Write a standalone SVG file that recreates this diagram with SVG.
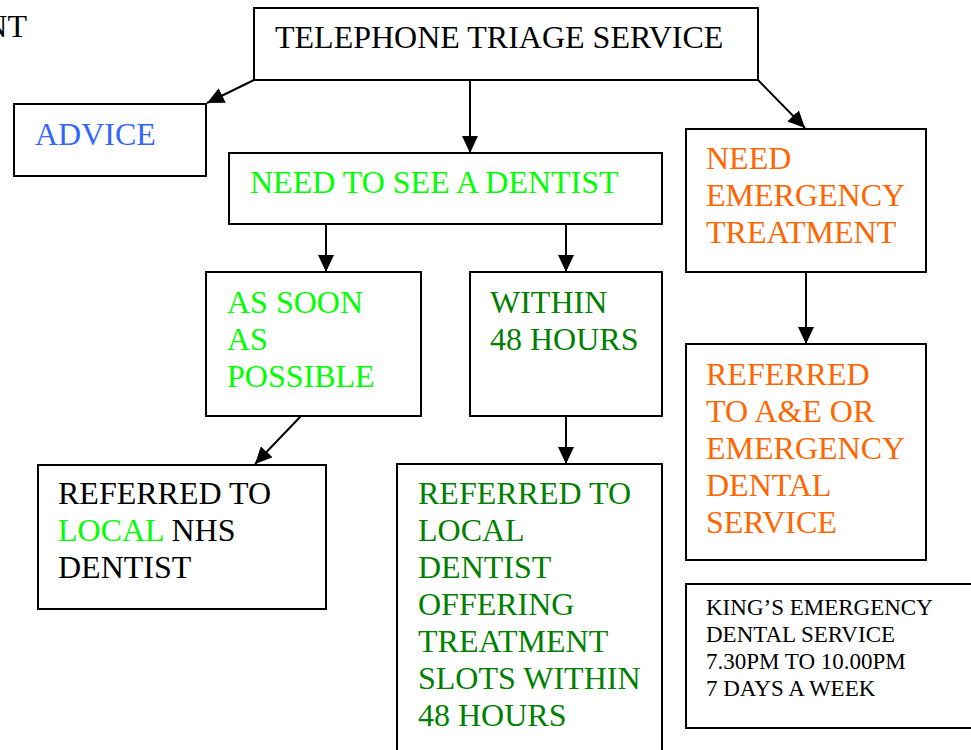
<svg xmlns="http://www.w3.org/2000/svg" width="971" height="750" viewBox="0 0 971 750">
<style>
  .box { fill: #fff; stroke: #000; stroke-width: 2; }
  .t { font-family: "Liberation Serif", "Times New Roman", serif; font-size: 32px; }
  .s { font-family: "Liberation Serif", "Times New Roman", serif; font-size: 23px; fill: #000; }
  .blk { fill: #000; }
  .blue { fill: #3366FF; }
  .lg { fill: #00FF00; }
  .dg { fill: #008000; }
  .or { fill: #FF6600; }
  .c { stroke: #000; stroke-width: 2; fill: none; marker-end: url(#ah); }
</style>
<defs>
  <marker id="ah" markerUnits="userSpaceOnUse" markerWidth="18" markerHeight="16" refX="17" refY="8" orient="auto">
    <path d="M0,0 L17,8 L0,16 Z" fill="#000"/>
  </marker>
</defs>
<rect width="971" height="750" fill="#fff"/>
<text class="t blk" x="27" y="37" text-anchor="end">NT</text>

<g id="connectors">
  <line class="c" x1="254" y1="80" x2="207" y2="103"/>
  <line class="c" x1="470" y1="80" x2="470" y2="153"/>
  <line class="c" x1="758" y1="80" x2="805" y2="128"/>
  <line class="c" x1="326" y1="224" x2="326" y2="272"/>
  <line class="c" x1="566" y1="224" x2="566" y2="272"/>
  <line class="c" x1="301" y1="416" x2="255" y2="464"/>
  <line class="c" x1="566" y1="416" x2="566" y2="464"/>
  <line class="c" x1="806" y1="272" x2="806" y2="344"/>
</g>

<g id="triage">
  <rect class="box" x="254" y="8" width="504" height="72"/>
  <text class="t blk" x="275" y="48">TELEPHONE TRIAGE SERVICE</text>
</g>
<g id="advice">
  <rect class="box" x="14" y="104" width="192" height="72"/>
  <text class="t blue" x="35" y="145">ADVICE</text>
</g>
<g id="see-dentist">
  <rect class="box" x="229" y="153" width="433" height="71"/>
  <text class="t lg" x="250" y="193">NEED TO SEE A DENTIST</text>
</g>
<g id="emergency">
  <rect class="box" x="686" y="129" width="240" height="143"/>
  <text class="t or" x="706" y="169">NEED</text>
  <text class="t or" x="706" y="206">EMERGENCY</text>
  <text class="t or" x="706" y="243">TREATMENT</text>
</g>
<g id="asap">
  <rect class="box" x="206" y="272" width="215" height="144"/>
  <text class="t lg" x="227" y="313">AS SOON</text>
  <text class="t lg" x="227" y="350">AS</text>
  <text class="t lg" x="227" y="387">POSSIBLE</text>
</g>
<g id="within48">
  <rect class="box" x="470" y="272" width="192" height="144"/>
  <text class="t dg" x="490" y="313">WITHIN</text>
  <text class="t dg" x="490" y="350">48 HOURS</text>
</g>
<g id="referred-nhs">
  <rect class="box" x="38" y="465" width="288" height="144"/>
  <text class="t blk" x="58" y="504">REFERRED TO</text>
  <text class="t" x="58" y="541"><tspan class="lg">LOCAL</tspan><tspan class="blk"> NHS</tspan></text>
  <text class="t blk" x="58" y="578">DENTIST</text>
</g>
<g id="referred-local">
  <rect class="box" x="397" y="464" width="265" height="300"/>
  <text class="t dg" x="418" y="504">REFERRED TO</text>
  <text class="t dg" x="418" y="541">LOCAL</text>
  <text class="t dg" x="418" y="578">DENTIST</text>
  <text class="t dg" x="418" y="615">OFFERING</text>
  <text class="t dg" x="418" y="652">TREATMENT</text>
  <text class="t dg" x="418" y="689">SLOTS WITHIN</text>
  <text class="t dg" x="418" y="726">48 HOURS</text>
</g>
<g id="referred-ae">
  <rect class="box" x="686" y="344" width="240" height="216"/>
  <text class="t or" x="706" y="385">REFERRED</text>
  <text class="t or" x="706" y="422">TO A&amp;E OR</text>
  <text class="t or" x="706" y="459">EMERGENCY</text>
  <text class="t or" x="706" y="496">DENTAL</text>
  <text class="t or" x="706" y="533">SERVICE</text>
</g>
<g id="kings">
  <rect class="box" x="686" y="584" width="300" height="144"/>
  <text class="s" x="706" y="615">KING’S EMERGENCY</text>
  <text class="s" x="706" y="642">DENTAL SERVICE</text>
  <text class="s" x="706" y="669">7.30PM TO 10.00PM</text>
  <text class="s" x="706" y="696">7 DAYS A WEEK</text>
</g>
</svg>
